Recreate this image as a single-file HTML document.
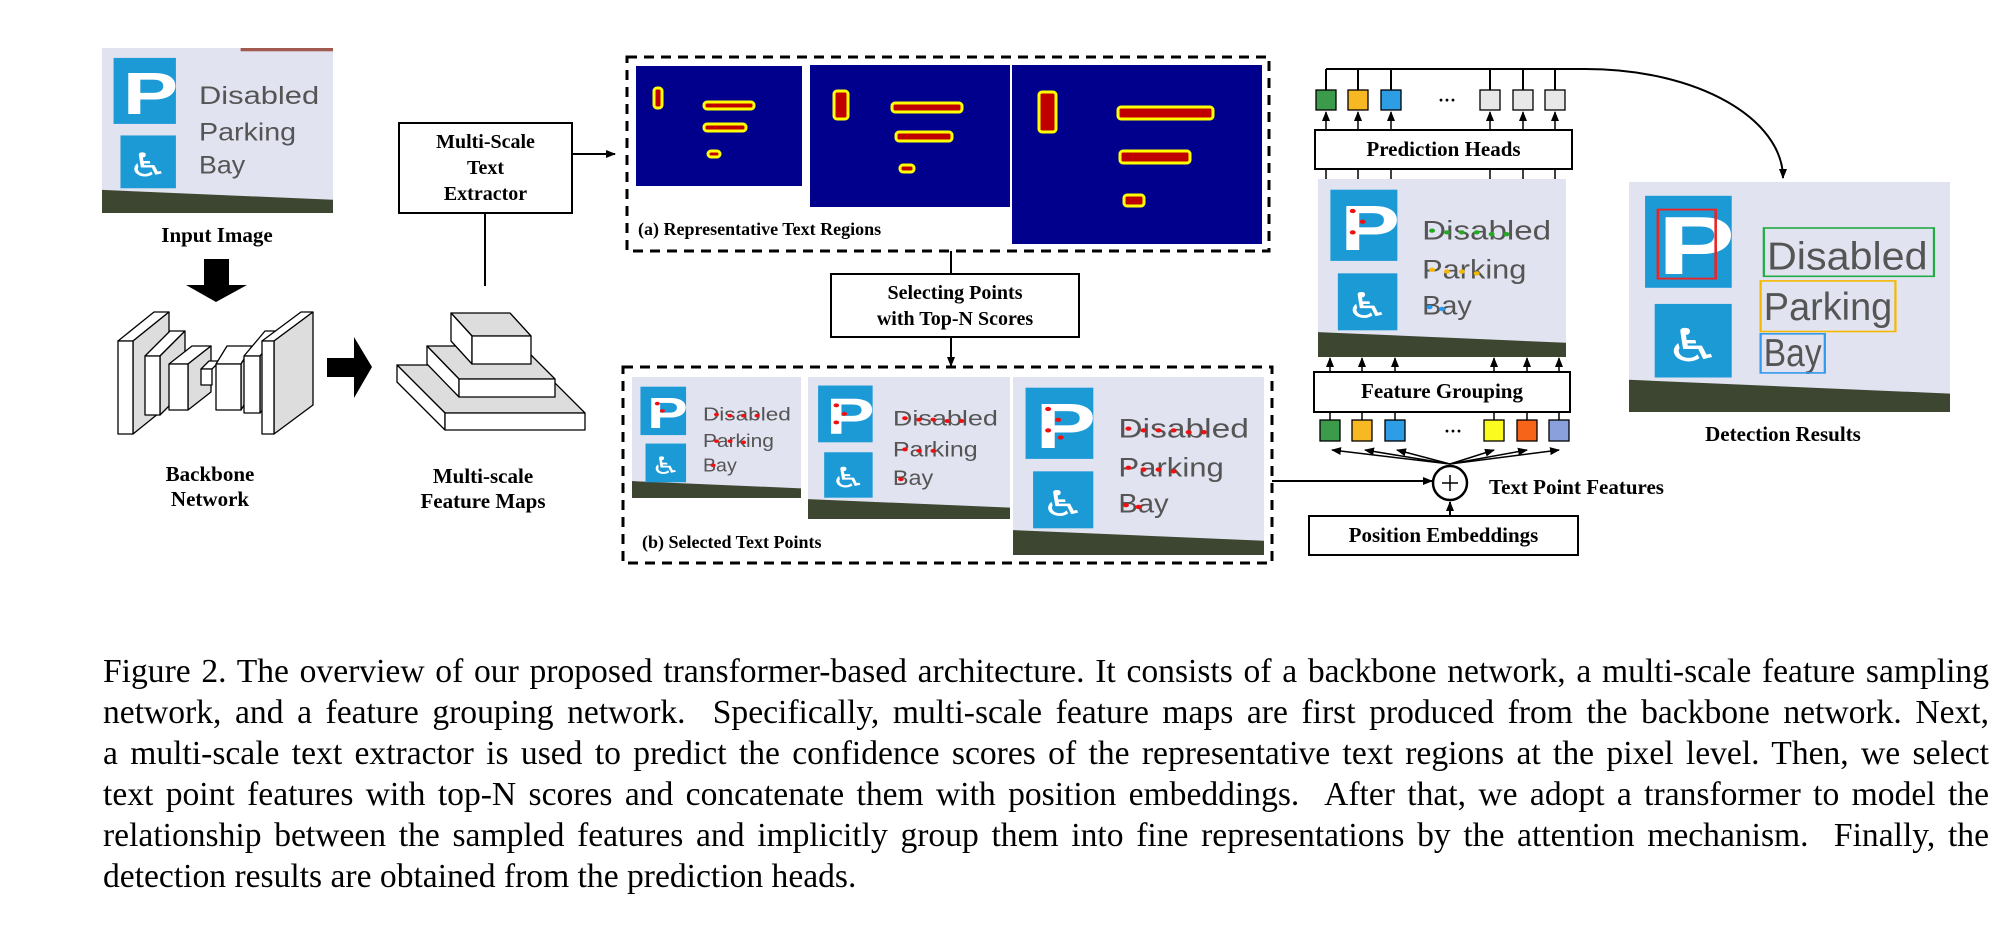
<!DOCTYPE html>
<html><head><meta charset="utf-8"><style>
body{margin:0;width:2002px;height:929px;background:#fff;position:relative;overflow:hidden;font-family:"Liberation Serif",serif}
.a{position:absolute}
.lbl{position:absolute;font-weight:bold;font-size:21px;text-align:center;line-height:1.2}
.box{position:absolute;border:2px solid #000;background:#fff;box-sizing:border-box;display:flex;align-items:center;justify-content:center;text-align:center;font-weight:bold;font-size:20px;line-height:1.3}
.cap{position:absolute;left:103px;width:1886px;top:651px;font-size:33.6px;line-height:41px}
.cap div{text-align:justify;text-align-last:justify;height:41px;overflow:hidden}
.cap div.l{text-align-last:left}
</style></head><body>

<svg class="a" style="left:102px;top:48px" width="231" height="165" viewBox="0 0 100 100" preserveAspectRatio="none"><rect width="100" height="100" fill="#3d4630"/><polygon points="0,0 100,0 100,92 0,86" fill="#e2e3f0"/><rect x="60" y="0" width="40" height="2" fill="#a05a50"/><rect x="5" y="6" width="27" height="40" fill="#1c9ad6"/><text x="9" y="40" font-size="36" font-weight="bold" fill="#fff" font-family="Liberation Sans">P</text><rect x="8" y="53" width="24" height="32" fill="#1c9ad6"/><text x="11" y="78" font-size="20" fill="#fff" font-family="DejaVu Sans">♿</text><text x="42" y="34" font-size="15" textLength="52" lengthAdjust="spacingAndGlyphs" fill="#555" font-family="Liberation Sans">Disabled</text><text x="42" y="56" font-size="15" textLength="42" lengthAdjust="spacingAndGlyphs" fill="#555" font-family="Liberation Sans">Parking</text><text x="42" y="76" font-size="15" textLength="20" lengthAdjust="spacingAndGlyphs" fill="#555" font-family="Liberation Sans">Bay</text></svg>

<svg class="a" style="left:632px;top:377px" width="169" height="121" viewBox="0 0 100 100" preserveAspectRatio="none"><rect width="100" height="100" fill="#3d4630"/><polygon points="0,0 100,0 100,92 0,86" fill="#e2e3f0"/><rect x="5" y="8" width="27" height="40" fill="#1c9ad6"/><text x="9" y="42" font-size="36" font-weight="bold" fill="#fff" font-family="Liberation Sans">P</text><rect x="8" y="55" width="24" height="32" fill="#1c9ad6"/><text x="11" y="80" font-size="20" fill="#fff" font-family="DejaVu Sans">♿</text><text x="42" y="36" font-size="15" textLength="52" lengthAdjust="spacingAndGlyphs" fill="#555" font-family="Liberation Sans">Disabled</text><text x="42" y="58" font-size="15" textLength="42" lengthAdjust="spacingAndGlyphs" fill="#555" font-family="Liberation Sans">Parking</text><text x="42" y="78" font-size="15" textLength="20" lengthAdjust="spacingAndGlyphs" fill="#555" font-family="Liberation Sans">Bay</text><g fill="#e11"><circle cx="15" cy="22" r="1.5"/><circle cx="18" cy="28" r="1.5"/><circle cx="50" cy="31" r="1.5"/><circle cx="58" cy="32" r="1.5"/><circle cx="66" cy="32" r="1.5"/><circle cx="74" cy="32" r="1.5"/><circle cx="50" cy="53" r="1.5"/><circle cx="58" cy="53" r="1.5"/><circle cx="66" cy="54" r="1.5"/><circle cx="48" cy="73" r="1.5"/></g></svg>

<svg class="a" style="left:808px;top:377px" width="202" height="142" viewBox="0 0 100 100" preserveAspectRatio="none"><rect width="100" height="100" fill="#3d4630"/><polygon points="0,0 100,0 100,92 0,86" fill="#e2e3f0"/><rect x="5" y="6" width="27" height="40" fill="#1c9ad6"/><text x="9" y="40" font-size="36" font-weight="bold" fill="#fff" font-family="Liberation Sans">P</text><rect x="8" y="53" width="24" height="32" fill="#1c9ad6"/><text x="11" y="78" font-size="20" fill="#fff" font-family="DejaVu Sans">♿</text><text x="42" y="34" font-size="15" textLength="52" lengthAdjust="spacingAndGlyphs" fill="#555" font-family="Liberation Sans">Disabled</text><text x="42" y="56" font-size="15" textLength="42" lengthAdjust="spacingAndGlyphs" fill="#555" font-family="Liberation Sans">Parking</text><text x="42" y="76" font-size="15" textLength="20" lengthAdjust="spacingAndGlyphs" fill="#555" font-family="Liberation Sans">Bay</text><g fill="#e11"><circle cx="14" cy="20" r="1.4"/><circle cx="18" cy="26" r="1.4"/><circle cx="14" cy="32" r="1.4"/><circle cx="48" cy="29" r="1.4"/><circle cx="55" cy="30" r="1.4"/><circle cx="62" cy="30" r="1.4"/><circle cx="69" cy="31" r="1.4"/><circle cx="76" cy="31" r="1.4"/><circle cx="48" cy="51" r="1.4"/><circle cx="55" cy="52" r="1.4"/><circle cx="62" cy="52" r="1.4"/><circle cx="46" cy="72" r="1.4"/></g></svg>

<svg class="a" style="left:1013px;top:377px" width="251" height="178" viewBox="0 0 100 100" preserveAspectRatio="none"><rect width="100" height="100" fill="#3d4630"/><polygon points="0,0 100,0 100,92 0,86" fill="#e2e3f0"/><rect x="5" y="6" width="27" height="40" fill="#1c9ad6"/><text x="9" y="40" font-size="36" font-weight="bold" fill="#fff" font-family="Liberation Sans">P</text><rect x="8" y="53" width="24" height="32" fill="#1c9ad6"/><text x="11" y="78" font-size="20" fill="#fff" font-family="DejaVu Sans">♿</text><text x="42" y="34" font-size="15" textLength="52" lengthAdjust="spacingAndGlyphs" fill="#555" font-family="Liberation Sans">Disabled</text><text x="42" y="56" font-size="15" textLength="42" lengthAdjust="spacingAndGlyphs" fill="#555" font-family="Liberation Sans">Parking</text><text x="42" y="76" font-size="15" textLength="20" lengthAdjust="spacingAndGlyphs" fill="#555" font-family="Liberation Sans">Bay</text><g fill="#e11"><circle cx="14" cy="18" r="1.2"/><circle cx="18" cy="24" r="1.2"/><circle cx="14" cy="30" r="1.2"/><circle cx="19" cy="34" r="1.2"/><circle cx="46" cy="29" r="1.2"/><circle cx="52" cy="30" r="1.2"/><circle cx="58" cy="30" r="1.2"/><circle cx="64" cy="30" r="1.2"/><circle cx="70" cy="31" r="1.2"/><circle cx="76" cy="31" r="1.2"/><circle cx="46" cy="51" r="1.2"/><circle cx="52" cy="52" r="1.2"/><circle cx="58" cy="52" r="1.2"/><circle cx="64" cy="53" r="1.2"/><circle cx="45" cy="72" r="1.2"/><circle cx="50" cy="73" r="1.2"/></g></svg>

<svg class="a" style="left:1318px;top:179px" width="248" height="178" viewBox="0 0 100 100" preserveAspectRatio="none"><rect width="100" height="100" fill="#3d4630"/><polygon points="0,0 100,0 100,92 0,86" fill="#e2e3f0"/><rect x="5" y="6" width="27" height="40" fill="#1c9ad6"/><text x="9" y="40" font-size="36" font-weight="bold" fill="#fff" font-family="Liberation Sans">P</text><rect x="8" y="53" width="24" height="32" fill="#1c9ad6"/><text x="11" y="78" font-size="20" fill="#fff" font-family="DejaVu Sans">♿</text><text x="42" y="34" font-size="15" textLength="52" lengthAdjust="spacingAndGlyphs" fill="#555" font-family="Liberation Sans">Disabled</text><text x="42" y="56" font-size="15" textLength="42" lengthAdjust="spacingAndGlyphs" fill="#555" font-family="Liberation Sans">Parking</text><text x="42" y="76" font-size="15" textLength="20" lengthAdjust="spacingAndGlyphs" fill="#555" font-family="Liberation Sans">Bay</text><g fill="#e11"><circle cx="14" cy="18" r="1.2"/><circle cx="18" cy="24" r="1.2"/><circle cx="14" cy="30" r="1.2"/></g><g fill="#2a2"><circle cx="46" cy="29" r="1.2"/><circle cx="52" cy="30" r="1.2"/><circle cx="58" cy="30" r="1.2"/><circle cx="64" cy="30" r="1.2"/><circle cx="70" cy="31" r="1.2"/><circle cx="76" cy="31" r="1.2"/></g><g fill="#f5b800"><circle cx="46" cy="51" r="1.2"/><circle cx="52" cy="52" r="1.2"/><circle cx="58" cy="52" r="1.2"/><circle cx="64" cy="53" r="1.2"/></g><g fill="#29e"><circle cx="45" cy="72" r="1.2"/><circle cx="50" cy="73" r="1.2"/></g></svg>

<svg class="a" style="left:1629px;top:182px" width="321" height="230" viewBox="0 0 100 100" preserveAspectRatio="none"><rect width="100" height="100" fill="#3d4630"/><polygon points="0,0 100,0 100,92 0,86" fill="#e2e3f0"/><rect x="5" y="6" width="27" height="40" fill="#1c9ad6"/><text x="9" y="40" font-size="36" font-weight="bold" fill="#fff" font-family="Liberation Sans">P</text><rect x="9" y="12" width="18" height="30" fill="none" stroke="#e22" stroke-width="0.8"/><rect x="8" y="53" width="24" height="32" fill="#1c9ad6"/><text x="11" y="78" font-size="20" fill="#fff" font-family="DejaVu Sans">♿</text><text x="43" y="38" font-size="17" textLength="50" lengthAdjust="spacingAndGlyphs" fill="#555" font-family="Liberation Sans">Disabled</text><text x="42" y="60" font-size="17" textLength="40" lengthAdjust="spacingAndGlyphs" fill="#555" font-family="Liberation Sans">Parking</text><text x="42" y="80" font-size="17" textLength="18" lengthAdjust="spacingAndGlyphs" fill="#555" font-family="Liberation Sans">Bay</text><rect x="42" y="20" width="53" height="21" fill="none" stroke="#2a4" stroke-width="0.7"/><rect x="41" y="43" width="42" height="22" fill="none" stroke="#f5b800" stroke-width="0.7"/><rect x="41" y="66" width="20" height="17" fill="none" stroke="#39e" stroke-width="0.7"/></svg>

<svg class="a" style="left:636px;top:66px" width="166" height="120"><rect width="166" height="120" fill="#00008c"/><g stroke="#ff0" stroke-width="3" fill="#c00000"><rect x="18" y="22" width="8" height="20" rx="3"/><rect x="68" y="36" width="50" height="7" rx="3"/><rect x="68" y="58" width="42" height="7" rx="3"/><rect x="72" y="85" width="12" height="6" rx="3"/></g></svg>
<svg class="a" style="left:810px;top:65px" width="200" height="142"><rect width="200" height="142" fill="#00008c"/><g stroke="#ff0" stroke-width="3" fill="#c00000"><rect x="24" y="26" width="14" height="28" rx="3"/><rect x="82" y="38" width="70" height="9" rx="3"/><rect x="86" y="67" width="56" height="9" rx="3"/><rect x="90" y="100" width="14" height="7" rx="3"/></g></svg>
<svg class="a" style="left:1012px;top:65px" width="250" height="179"><rect width="250" height="179" fill="#00008c"/><g stroke="#ff0" stroke-width="3" fill="#c00000"><rect x="27" y="27" width="17" height="40" rx="3"/><rect x="106" y="42" width="95" height="12" rx="3"/><rect x="108" y="86" width="70" height="12" rx="3"/><rect x="112" y="130" width="20" height="11" rx="3"/></g></svg>

<svg class="a" style="left:0;top:0" width="2002" height="600">
<defs><marker id="ar" markerWidth="10" markerHeight="10" refX="9" refY="5" orient="auto" markerUnits="userSpaceOnUse"><path d="M0,1 L10,5 L0,9 z" fill="#000"/></marker></defs>
<g fill="none" stroke="#000" stroke-width="3" stroke-dasharray="10,7"><rect x="627" y="57" width="642" height="194"/><rect x="623" y="367" width="649" height="196"/></g>
<polygon points="204,259 229,259 229,285 247,285 216,302 186,285 204,285" fill="#000"/>
<polygon points="327,358 354,358 354,337 372,367 354,398 354,377 327,377" fill="#000"/>
<g stroke="#000" stroke-width="1.3" stroke-linejoin="round">
<polygon points="118,341 154,312 169,312 133,341" fill="#fff"/><polygon points="133,341 169,312 169,405 133,434" fill="#ddd"/><rect x="118" y="341" width="15" height="93" fill="#fff"/>
<polygon points="145,356 170,331 185,331 160,356" fill="#fff"/><polygon points="160,356 185,331 185,390 160,415" fill="#ddd"/><rect x="145" y="356" width="15" height="59" fill="#fff"/>
<polygon points="169,364 192,346 211,346 188,364" fill="#fff"/><polygon points="188,364 211,346 211,392 188,410" fill="#ddd"/><rect x="169" y="364" width="19" height="46" fill="#fff"/>
<polygon points="201,369 209,361 220,361 212,369" fill="#fff"/><rect x="201" y="369" width="11" height="16" fill="#fff"/>
<polygon points="216,364 227,346 252,346 241,364" fill="#fff"/><polygon points="241,364 252,346 252,392 241,410" fill="#ddd"/><rect x="216" y="364" width="25" height="46" fill="#fff"/>
<polygon points="244,356 265,331 281,331 260,356" fill="#fff"/><polygon points="260,356 281,331 281,388 260,413" fill="#ddd"/><rect x="244" y="356" width="16" height="57" fill="#fff"/>
<polygon points="262,341 301,312 313,312 274,341" fill="#fff"/><polygon points="274,341 313,312 313,405 274,434" fill="#ddd"/><rect x="262" y="341" width="12" height="93" fill="#fff"/>
</g>
<g stroke="#000" stroke-width="1.3" stroke-linejoin="round">
<polygon points="445,413 585,413 537,365 397,365" fill="#ddd"/><polygon points="445,413 397,365 397,382 445,430" fill="#fff"/><rect x="445" y="413" width="140" height="17" fill="#fff"/>
<polygon points="459,379 555,379 522,346 427,346" fill="#ddd"/><polygon points="459,379 427,346 427,364 459,397" fill="#fff"/><rect x="459" y="379" width="96" height="18" fill="#fff"/>
<polygon points="472,336 531,336 510,313 451,313" fill="#ddd"/><polygon points="472,336 451,313 451,341 472,364" fill="#fff"/><rect x="472" y="336" width="59" height="28" fill="#fff"/>
</g>
<g stroke="#000" stroke-width="2" fill="none">
<line x1="485" y1="214" x2="485" y2="286"/>
<line x1="573" y1="154" x2="615" y2="154" marker-end="url(#ar)"/>
<line x1="951" y1="251" x2="951" y2="273"/>
<line x1="951" y1="338" x2="951" y2="366" marker-end="url(#ar)"/>
<line x1="1272" y1="481" x2="1432" y2="481" marker-end="url(#ar)"/>
<line x1="1450" y1="515" x2="1450" y2="502" marker-end="url(#ar)"/>
<path d="M1326,69 L1585,69 C1700,69 1783,120 1783,178" marker-end="url(#ar)"/>
</g>
<g stroke="#000" stroke-width="2">
<line x1="1326" y1="69" x2="1326" y2="90"/><line x1="1358" y1="69" x2="1358" y2="90"/><line x1="1391" y1="69" x2="1391" y2="90"/><line x1="1490" y1="69" x2="1490" y2="90"/><line x1="1523" y1="69" x2="1523" y2="90"/><line x1="1555" y1="69" x2="1555" y2="90"/>
</g>
<g stroke="#000" stroke-width="1.5" fill="none">
<line x1="1326" y1="129" x2="1326" y2="112" marker-end="url(#ar)"/><line x1="1358" y1="129" x2="1358" y2="112" marker-end="url(#ar)"/><line x1="1391" y1="129" x2="1391" y2="112" marker-end="url(#ar)"/><line x1="1490" y1="129" x2="1490" y2="112" marker-end="url(#ar)"/><line x1="1523" y1="129" x2="1523" y2="112" marker-end="url(#ar)"/><line x1="1555" y1="129" x2="1555" y2="112" marker-end="url(#ar)"/>
<line x1="1326" y1="170" x2="1326" y2="179"/><line x1="1358" y1="170" x2="1358" y2="179"/><line x1="1391" y1="170" x2="1391" y2="179"/><line x1="1490" y1="170" x2="1490" y2="179"/><line x1="1523" y1="170" x2="1523" y2="179"/><line x1="1555" y1="170" x2="1555" y2="179"/>
<line x1="1330" y1="371" x2="1330" y2="358" marker-end="url(#ar)"/><line x1="1362" y1="371" x2="1362" y2="358" marker-end="url(#ar)"/><line x1="1395" y1="371" x2="1395" y2="358" marker-end="url(#ar)"/><line x1="1494" y1="371" x2="1494" y2="358" marker-end="url(#ar)"/><line x1="1527" y1="371" x2="1527" y2="358" marker-end="url(#ar)"/><line x1="1559" y1="371" x2="1559" y2="358" marker-end="url(#ar)"/>
<line x1="1330" y1="413" x2="1330" y2="420"/><line x1="1362" y1="413" x2="1362" y2="420"/><line x1="1395" y1="413" x2="1395" y2="420"/><line x1="1494" y1="413" x2="1494" y2="420"/><line x1="1527" y1="413" x2="1527" y2="420"/><line x1="1559" y1="413" x2="1559" y2="420"/>
<line x1="1450" y1="464" x2="1332" y2="450" marker-end="url(#ar)"/><line x1="1450" y1="464" x2="1365" y2="450" marker-end="url(#ar)"/><line x1="1450" y1="464" x2="1397" y2="450" marker-end="url(#ar)"/><line x1="1450" y1="464" x2="1494" y2="450" marker-end="url(#ar)"/><line x1="1450" y1="464" x2="1527" y2="450" marker-end="url(#ar)"/><line x1="1450" y1="464" x2="1559" y2="450" marker-end="url(#ar)"/>
</g>
<circle cx="1450" cy="483" r="17" fill="#fff" stroke="#000" stroke-width="2.5"/>
<line x1="1442" y1="483" x2="1458" y2="483" stroke="#000" stroke-width="1.5"/><line x1="1450" y1="475" x2="1450" y2="491" stroke="#000" stroke-width="1.5"/>
<g stroke="#000" stroke-width="1.3">
<rect x="1316" y="90" width="20" height="20" fill="#3c9b4a"/><rect x="1348" y="90" width="20" height="20" fill="#f7b823"/><rect x="1381" y="90" width="20" height="20" fill="#2d9de6"/>
<rect x="1480" y="90" width="20" height="20" fill="#e8e8e8"/><rect x="1513" y="90" width="20" height="20" fill="#e8e8e8"/><rect x="1545" y="90" width="20" height="20" fill="#e8e8e8"/>
<rect x="1320" y="420" width="20" height="21" fill="#3c9b4a"/><rect x="1352" y="420" width="20" height="21" fill="#f7b823"/><rect x="1385" y="420" width="20" height="21" fill="#2d9de6"/>
<rect x="1484" y="420" width="20" height="21" fill="#fbfb20"/><rect x="1517" y="420" width="20" height="21" fill="#f56418"/><rect x="1549" y="420" width="20" height="21" fill="#8aa0dd"/>
</g>
<text x="1438" y="106" font-size="18" font-weight="bold" font-family="Liberation Serif">···</text>
<text x="1444" y="437" font-size="18" font-weight="bold" font-family="Liberation Serif">···</text>
</svg>

<div class="box" style="left:398px;top:122px;width:175px;height:92px">Multi-Scale<br>Text<br>Extractor</div>
<div class="box" style="left:830px;top:273px;width:250px;height:65px">Selecting Points<br>with Top-N Scores</div>
<div class="box" style="left:1314px;top:129px;width:259px;height:41px;font-size:21px">Prediction Heads</div>
<div class="box" style="left:1313px;top:371px;width:258px;height:42px;font-size:21px">Feature Grouping</div>
<div class="box" style="left:1308px;top:515px;width:271px;height:41px;font-size:21px">Position Embeddings</div>

<div class="lbl" style="left:117px;top:223px;width:200px">Input Image</div>
<div class="lbl" style="left:110px;top:462px;width:200px">Backbone<br>Network</div>
<div class="lbl" style="left:383px;top:464px;width:200px">Multi-scale<br>Feature Maps</div>
<div class="a" style="left:638px;top:219px;font-weight:bold;font-size:18px">(a) Representative Text Regions</div>
<div class="a" style="left:642px;top:532px;font-weight:bold;font-size:18px">(b) Selected Text Points</div>
<div class="a" style="left:1489px;top:475px;font-weight:bold;font-size:21px">Text Point Features</div>
<div class="lbl" style="left:1683px;top:422px;width:200px">Detection Results</div>

<div class="cap">
<div>Figure 2. The overview of our proposed transformer-based architecture. It consists of a backbone network, a multi-scale feature sampling</div>
<div>network, and a feature grouping network. &nbsp;Specifically, multi-scale feature maps are first produced from the backbone network. Next,</div>
<div>a multi-scale text extractor is used to predict the confidence scores of the representative text regions at the pixel level. Then, we select</div>
<div>text point features with top-N scores and concatenate them with position embeddings. &nbsp;After that, we adopt a transformer to model the</div>
<div>relationship between the sampled features and implicitly group them into fine representations by the attention mechanism. &nbsp;Finally, the</div>
<div class="l">detection results are obtained from the prediction heads.</div>
</div>
</body></html>
